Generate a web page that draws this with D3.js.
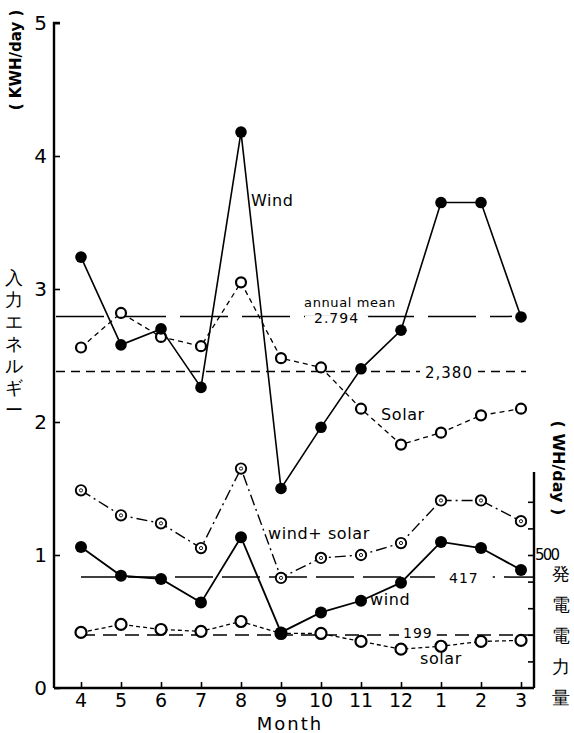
<!DOCTYPE html>
<html>
<head>
<meta charset="utf-8">
<script src="https://cdn.jsdelivr.net/npm/d3@7"></script>
<style>
  html, body { margin: 0; padding: 0; background: #fff; }
  svg { display: block; }
  text { font-family: "DejaVu Sans", "Noto Sans", sans-serif; fill: #000; }
</style>
</head>
<body>
<svg id="chart" width="574" height="733"></svg>
<script>
// Monthly energy: wind and solar input (KWH/day) and generated output (WH/day)
const months = ["4", "5", "6", "7", "8", "9", "10", "11", "12", "1", "2", "3"];

// Input energy, KWH/day (left axis)
const windInput  = [3.24, 2.58, 2.70, 2.26, 4.18, 1.50, 1.96, 2.40, 2.69, 3.65, 3.65, 2.79];
const solarInput = [2.56, 2.82, 2.64, 2.57, 3.05, 2.48, 2.41, 2.10, 1.83, 1.92, 2.05, 2.10];
const windInputMean = 2.794;
const solarInputMean = 2.380;

// Generated power, WH/day (right axis)
const windOutput  = [530, 422, 410, 321, 567, 209, 284, 328, 396, 549, 526, 444];
const solarOutput = [209, 239, 220, 213, 250, 205, 205, 175, 146, 157, 175, 179];
const totalOutput = [743, 649, 619, 526, 825, 414, 489, 500, 545, 705, 705, 627];
const windOutputMean = 417;
const solarOutputMean = 199;

const leftTicks = [0, 1, 2, 3, 4, 5];
const rightTicks = [100, 200, 300, 400, 500, 600, 700];
const rightTickLabels = { 500: "500" };

const svg = d3.select("#chart");

const xL = 54, xR = 534, yBottom = 688, yTop = 23;

const x = d3.scalePoint().domain(months).range([81, 521]);
const yL = d3.scaleLinear().domain([0, 5]).range([yBottom, yTop]);
// 500 WH/day sits level with 1 KWH/day
const yR = d3.scaleLinear().domain([0, 2500]).range([yBottom, yTop]);

// ---- axes ----
const left = svg.append("g").attr("transform", `translate(${xL},0)`)
  .call(d3.axisRight(yL).tickValues(leftTicks).tickSize(6).tickFormat(""));
left.select(".domain").attr("d", `M6,${yTop}H0V${yBottom}`).attr("stroke-width", 2.4);
left.selectAll(".tick line").attr("stroke-width", 1.6);
svg.append("g").selectAll("text").data(leftTicks).join("text")
  .attr("x", xL - 7).attr("y", d => yL(d) + 7)
  .attr("text-anchor", "end").attr("font-size", 20)
  .text(d => d);

const bottom = svg.append("g").attr("transform", `translate(0,${yBottom})`)
  .call(d3.axisTop(x).tickSize(6).tickFormat(""));
bottom.select(".domain").attr("d", `M${xL},0H${xR}`).attr("stroke-width", 2.4);
bottom.selectAll(".tick line").attr("stroke-width", 1.6);
svg.append("g").selectAll("text").data(months).join("text")
  .attr("x", d => x(d)).attr("y", yBottom + 19)
  .attr("text-anchor", "middle").attr("font-size", 19)
  .text(d => d);
svg.append("text").attr("x", 290).attr("y", 730)
  .attr("text-anchor", "middle").attr("font-size", 18).attr("letter-spacing", 2)
  .text("Month");

const right = svg.append("g").attr("transform", `translate(${xR},0)`)
  .call(d3.axisLeft(yR).tickValues(rightTicks).tickSize(6).tickFormat(""));
right.select(".domain").attr("d", `M0,${yBottom}V${yR(812)}`).attr("stroke-width", 2.4);
right.selectAll(".tick line").attr("stroke-width", 1.6);
svg.append("g").selectAll("text").data(rightTicks.filter(d => rightTickLabels[d])).join("text")
  .attr("x", xR + 1).attr("y", d => yR(d) + 5)
  .attr("font-size", 15).attr("letter-spacing", -1.8)
  .text(d => rightTickLabels[d]);

// ---- axis titles ----
svg.append("text").attr("transform", "translate(21,60) rotate(-90)")
  .attr("text-anchor", "middle").attr("font-size", 15).attr("font-weight", "bold")
  .text("( KWH/day )");
const leftTitle = "入力エネルギー".split("");
svg.append("g").selectAll("text").data(leftTitle).join("text")
  .attr("x", 14).attr("y", (d, i) => 284 + i * 22)
  .attr("text-anchor", "middle").attr("font-size", 18)
  .attr("font-family", "Noto Sans CJK JP")
  .text(d => d);

svg.append("text").attr("transform", "translate(553,468) rotate(90)")
  .attr("text-anchor", "middle").attr("font-size", 16).attr("font-weight", "bold")
  .text("( WH/day )");
const rightTitle = "発電電力量".split("");
svg.append("g").selectAll("text").data(rightTitle).join("text")
  .attr("x", 561).attr("y", (d, i) => 580 + i * 31)
  .attr("text-anchor", "middle").attr("font-size", 18)
  .attr("font-family", "Noto Sans CJK JP")
  .text(d => d);

// ---- mean lines with labels ----
function meanLine(y, x1, x2, dash, width) {
  svg.append("line").attr("x1", x1).attr("x2", x2).attr("y1", y).attr("y2", y)
    .attr("stroke", "#000").attr("stroke-width", width).attr("stroke-dasharray", dash);
}
function gapLabel(txt, x0, y, size, gap) {
  const t = svg.append("text").attr("x", x0).attr("y", y + size * 0.36)
    .attr("font-size", size).attr("letter-spacing", 1).text(txt);
  const b = t.node().getBBox();
  svg.insert("rect", () => t.node())
    .attr("x", b.x - gap).attr("y", y - 3).attr("width", b.width + gap * 2).attr("height", 6)
    .attr("fill", "#fff");
}

meanLine(yL(windInputMean), 56, 512, "48,14", 1.5);
gapLabel(windInputMean.toFixed(3), 314, yL(windInputMean) + 2, 14, 9);
svg.append("text").attr("x", 350).attr("y", 307).attr("text-anchor", "middle")
  .attr("font-size", 13).attr("letter-spacing", 0.6).text("annual mean");

meanLine(yL(solarInputMean), 56, 526, "9,6", 1.4);
gapLabel(solarInputMean.toFixed(3).replace(".", ","), 425, yL(solarInputMean) + 1, 15, 5);

meanLine(yR(windOutputMean), 81, xR, "38,9", 1.5);
gapLabel(String(windOutputMean), 449, yR(windOutputMean) + 1, 14, 14);

meanLine(yR(solarOutputMean), 81, xR, "14,8", 1.4);
gapLabel(String(solarOutputMean), 403, yR(solarOutputMean) - 2, 14, 4);

// ---- series ----
function series(values, yScale, dash, width) {
  svg.append("path")
    .datum(values)
    .attr("fill", "none").attr("stroke", "#000")
    .attr("stroke-width", width).attr("stroke-dasharray", dash)
    .attr("d", d3.line().x((d, i) => x(months[i])).y(d => yScale(d)));
}
function filledDots(values, yScale, r) {
  svg.append("g").selectAll("circle").data(values).join("circle")
    .attr("cx", (d, i) => x(months[i])).attr("cy", d => yScale(d))
    .attr("r", r).attr("fill", "#000");
}
function openDots(values, yScale, r, sw, center) {
  const g = svg.append("g");
  g.selectAll("circle.o").data(values).join("circle").attr("class", "o")
    .attr("cx", (d, i) => x(months[i])).attr("cy", d => yScale(d))
    .attr("r", r).attr("fill", "#fff").attr("stroke", "#000").attr("stroke-width", sw);
  if (center) {
    g.selectAll("circle.c").data(values).join("circle").attr("class", "c")
      .attr("cx", (d, i) => x(months[i])).attr("cy", d => yScale(d))
      .attr("r", 1.6).attr("fill", "none").attr("stroke", "#000").attr("stroke-width", 0.9);
  }
}

// input energy
series(solarInput, yL, "5,4", 1.3);
openDots(solarInput, yL, 5, 2.2, false);
series(windInput, yL, null, 1.6);
filledDots(windInput, yL, 5.8);

// generated power
series(totalOutput, yR, "11,4,2,4", 1.4);
openDots(totalOutput, yR, 5.2, 1.9, true);
series(solarOutput, yR, "4,3", 1.3);
openDots(solarOutput, yR, 5.5, 2.2, false);
series(windOutput, yR, null, 1.8);
filledDots(windOutput, yR, 6);

// ---- series labels ----
const labels = [
  { t: "Wind", x: 251, y: 206, s: 16 },
  { t: "Solar", x: 381, y: 420, s: 16 },
  { t: "wind+ solar", x: 268, y: 539, s: 16 },
  { t: "wind", x: 370, y: 605, s: 16 },
  { t: "solar", x: 420, y: 664, s: 16 }
];
svg.append("g").selectAll("text").data(labels).join("text")
  .attr("x", d => d.x).attr("y", d => d.y).attr("font-size", d => d.s)
  .attr("letter-spacing", 0.6)
  .text(d => d.t);
</script>
</body>
</html>
